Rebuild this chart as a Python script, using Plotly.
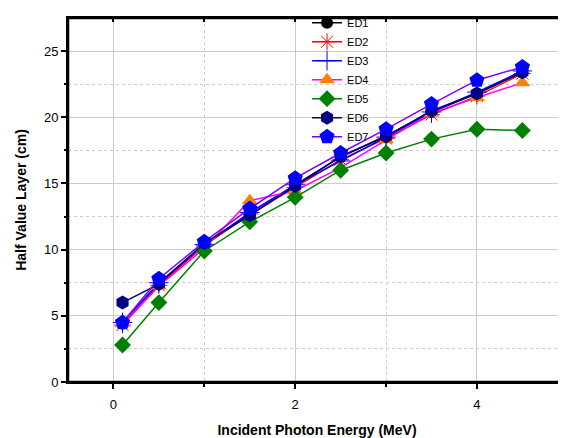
import plotly.graph_objects as go

energy = [0.1, 0.5, 1.0, 1.5, 2.0, 2.5, 3.0, 3.5, 4.0, 4.5]

ed1 = [4.4, 7.4, 10.4, 12.6, 14.9, 17.0, 18.6, 20.4, 21.8, 23.4]
ed2 = [4.3, 7.3, 10.3, 12.7, 14.7, 16.8, 18.4, 20.2, 21.6, 23.3]
ed3 = [4.5, 7.5, 10.4, 12.8, 14.9, 16.7, 18.5, 20.4, 21.9, 23.5]
ed4 = [4.4, 7.25, 10.1, 13.7, 14.45, 16.2, 18.3, 20.3, 21.5, 22.6]
ed5 = [2.8, 6.0, 9.9, 12.1, 13.95, 16.0, 17.3, 18.35, 19.1, 19.0]
ed6 = [6.0, 7.4, 10.5, 12.6, 14.8, 17.05, 18.55, 20.5, 21.8, 23.4]
ed7 = [4.5, 7.8, 10.6, 13.1, 15.4, 17.3, 19.1, 21.0, 22.8, 23.8]

x_ticks = [0, 2, 4]
x_all_ticks = [0, 1, 2, 3, 4]
y_ticks = [0, 5, 10, 15, 20, 25]
y_all_ticks = [0, 2.5, 5, 7.5, 10, 12.5, 15, 17.5, 20, 22.5, 25]

series = [
    ("ED1", ed1, "black", dict(symbol="circle", color="black", size=12)),
    ("ED2", ed2, "red", dict(symbol="asterisk-open", color="red", size=14, line=dict(color="red", width=1))),
    ("ED3", ed3, "blue", dict(symbol="cross-thin-open", color="blue", size=14, line=dict(color="blue", width=1))),
    ("ED4", ed4, "magenta", dict(symbol="triangle-up", color="#FF8000", size=14)),
    ("ED5", ed5, "green", dict(symbol="diamond", color="green", size=13)),
    ("ED6", ed6, "navy", dict(symbol="hexagon", color="navy", size=14)),
    ("ED7", ed7, "#8000FF", dict(symbol="pentagon", color="blue", size=16)),
]

fig = go.Figure()
for name, vals, lc, mk in series:
    fig.add_trace(go.Scatter(
        x=energy, y=vals, name=name, mode="lines+markers",
        line=dict(color=lc, width=1.5), marker=mk,
    ))

# invisible copy on the overlay axes so that the top/right inner ticks are drawn
fig.add_trace(go.Scatter(x=energy, y=ed1, xaxis="x2", yaxis="y2", mode="markers",
                         marker=dict(opacity=0), showlegend=False, hoverinfo="skip"))

grid_col = "#cccccc"
# page body adds an 8px offset, so the figure is 8px smaller than the window
fig.update_layout(
    width=558, height=430,
    margin=dict(l=60, r=0, t=6, b=56),
    paper_bgcolor="white", plot_bgcolor="white",
    font=dict(family="Arial, Liberation Sans, sans-serif", color="black", size=13),
    showlegend=True,
    legend=dict(
        x=0.48, y=1.027, xanchor="left", yanchor="top",
        bgcolor="rgba(0,0,0,0)", font=dict(size=11),
        itemwidth=30, tracegroupgap=0,
    ),
    xaxis=dict(
        range=[-0.5, 4.98], tickvals=x_ticks, ticktext=[str(v) for v in x_ticks],
        showline=True, linewidth=2, linecolor="black", mirror=True,
        ticks="outside", ticklen=5, tickwidth=2, tickcolor="black", ticklabelstandoff=4,
        showgrid=True, gridcolor=grid_col, gridwidth=1,
        minor=dict(tickvals=[1, 3], ticks="outside", ticklen=3, tickwidth=2, tickcolor="black",
                   showgrid=True, gridcolor=grid_col, griddash="dot", gridwidth=1),
        zeroline=False, automargin=False,
        title=dict(text="<b>Incident Photon Energy (MeV)</b>", font=dict(size=14), standoff=19),
    ),
    yaxis=dict(
        range=[0, 27.5], tickvals=y_ticks,
        showline=True, linewidth=2, linecolor="black", mirror=False,
        ticks="outside", ticklen=5, tickwidth=2, tickcolor="black",
        showgrid=True, gridcolor=grid_col, gridwidth=1,
        minor=dict(tickvals=[2.5, 7.5, 12.5, 17.5, 22.5], ticks="outside", ticklen=2, tickwidth=2,
                   tickcolor="black", showgrid=True, gridcolor=grid_col, griddash="dot", gridwidth=1),
        zeroline=False, automargin=False,
        title=dict(text="<b>Half Value Layer (cm)</b>", font=dict(size=14), standoff=14),
    ),
    xaxis2=dict(
        overlaying="x", side="top", anchor="y2", range=[-0.5, 4.98],
        tickvals=x_all_ticks, ticks="inside", ticklen=4, tickwidth=2, tickcolor="black",
        showticklabels=False, showgrid=False, showline=False, zeroline=False, automargin=False,
    ),
    yaxis2=dict(
        overlaying="y", side="right", anchor="x2", range=[0, 27.5],
        tickvals=y_all_ticks, ticks="inside", ticklen=5, tickwidth=2, tickcolor="black",
        showticklabels=False, showgrid=False, showline=False, zeroline=False, automargin=False,
    ),
    shapes=[
        dict(type="line", xref="paper", yref="paper", x0=0, x1=0, y0=0, y1=1,
             line=dict(color="black", width=2.5), layer="above"),
        dict(type="line", xref="paper", yref="paper", x0=0, x1=1, y0=0, y1=0,
             line=dict(color="black", width=2.5), layer="above"),
        dict(type="line", xref="paper", yref="paper", x0=0, x1=1, y0=1, y1=1,
             line=dict(color="black", width=2.5), layer="above"),
    ],
)

fig.write_html("out.html")
